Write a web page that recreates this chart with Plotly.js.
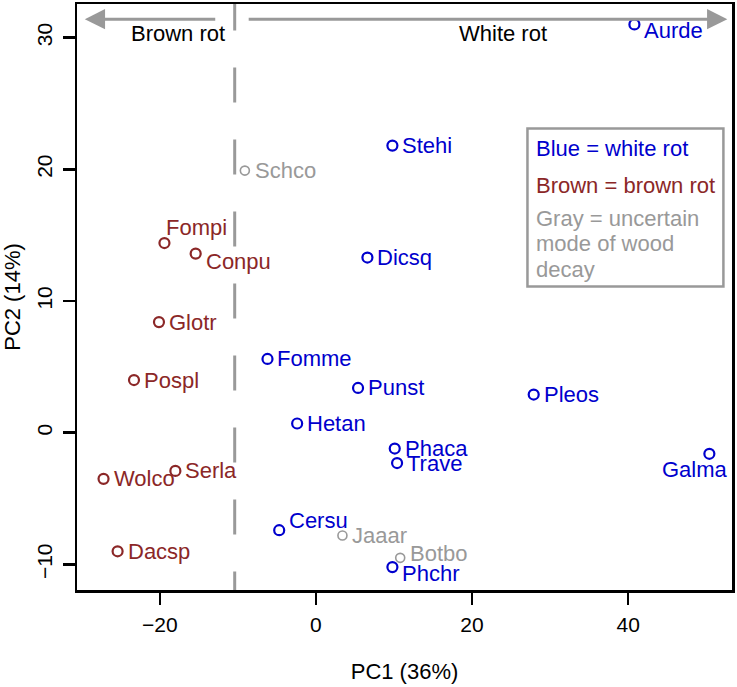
<!DOCTYPE html>
<html>
<head>
<meta charset="utf-8">
<script src="https://cdn.plot.ly/plotly-3.0.1.min.js"></script>
<style>html,body{margin:0;padding:0;background:#fff;}#chart{width:737px;height:687px;}</style>
</head>
<body>
<div id="chart"></div>
<script>
// ---- data ----
var species = ["Aurde","Stehi","Dicsq","Schco","Fompi","Conpu","Glotr","Pospl","Fomme","Punst","Pleos","Hetan","Phaca","Trave","Galma","Wolco","Serla","Cersu","Jaaar","Botbo","Dacsp","Phchr"];
var pc1 = [40.8, 9.8, 6.6, -9.1, -19.4, -15.4, -20.1, -23.3, -6.2, 5.4, 27.9, -2.4, 10.1, 10.4, 50.4, -27.2, -18.0, -4.7, 3.4, 10.8, -25.4, 9.8];
var pc2 = [31.0, 21.8, 13.3, 19.9, 14.4, 13.6, 8.4, 4.0, 5.6, 3.4, 2.9, 0.7, -1.2, -2.3, -1.6, -3.5, -2.9, -7.4, -7.8, -9.5, -9.0, -10.2];
var decay = ["white","white","white","gray","brown","brown","brown","brown","white","white","white","white","white","white","white","brown","brown","white","gray","gray","brown","white"];
var groups = ["white","brown","gray"];
var legendLines = ["Blue = white rot","Brown = brown rot","Gray = uncertain","mode of wood","decay"];
var legendGroup = ["white","brown","gray","gray","gray"];
var xTicks = [-20, 0, 20, 40];
var yTicks = [-10, 0, 10, 20, 30];
var divideAt = -10.4;

// ---- label placement (pixel offsets from point) ----
var labelDx = {Fompi: -8, Galma: -14};
var labelDy = {Aurde: 6, Fompi: -16, Conpu: 8, Cersu: -10, Galma: 16, Botbo: -4, Phchr: 6};
var labelAnchor = {Galma: "center"};

// ---- styles ----
var colors = {white: "#0000CD", brown: "#8B2727", gray: "#999999"};
var FONT = "Liberation Sans, Arial, Helvetica, sans-serif";
var FS = 22;
var TFS = 21;

var traces = groups.map(function (g) {
  var xs = [], ys = [], ns = [];
  for (var i = 0; i < species.length; i++) {
    if (decay[i] === g) { xs.push(pc1[i]); ys.push(pc2[i]); ns.push(species[i]); }
  }
  return {
    type: "scatter", mode: "markers", x: xs, y: ys, text: ns, name: g,
    hoverinfo: "text",
    marker: {symbol: "circle-open", size: g === "gray" ? 9 : 10, color: colors[g],
             line: {width: g === "gray" ? 1.6 : 2.2, color: colors[g]}},
    cliponaxis: false
  };
});

var annotations = species.map(function (s, i) {
  var anchor = labelAnchor[s] || "left";
  return {
    x: pc1[i], y: pc2[i], xref: "x", yref: "y", text: s, showarrow: false,
    xanchor: anchor, yanchor: "middle",
    xshift: (anchor === "left" ? 8 : 0) + (labelDx[s] || 0),
    yshift: -(labelDy[s] || 0),
    font: {family: FONT, size: FS, color: colors[decay[i]]}
  };
});

// arrows and side labels
var xr = [-30.6, 53.3], yr = [-11.94, 32.55];
var arrowY = 31.4;
annotations.push({x: xr[0] + 1.0, y: arrowY, ax: divideAt - 2.3, ay: arrowY, xref: "x", yref: "y", axref: "x", ayref: "y",
  text: "", showarrow: true, arrowhead: 2, arrowsize: 1.35, arrowwidth: 3, arrowcolor: "#999999", standoff: 0});
annotations.push({x: xr[1] - 0.6, y: arrowY, ax: divideAt + 1.6, ay: arrowY, xref: "x", yref: "y", axref: "x", ayref: "y",
  text: "", showarrow: true, arrowhead: 2, arrowsize: 1.35, arrowwidth: 3, arrowcolor: "#999999", standoff: 0});
annotations.push({x: -17.7, y: 30.3, xref: "x", yref: "y", text: "Brown rot", showarrow: false,
  xanchor: "center", yanchor: "middle", font: {family: FONT, size: FS, color: "#000"}});
annotations.push({x: 24.0, y: 30.3, xref: "x", yref: "y", text: "White rot", showarrow: false,
  xanchor: "center", yanchor: "middle", font: {family: FONT, size: FS, color: "#000"}});

// legend box text
var legY = [21.6, 18.8, 16.3, 14.4, 12.4];
legendLines.forEach(function (t, k) {
  annotations.push({x: 27.9, y: legY[k], xref: "x", yref: "y", text: t, showarrow: false,
    xanchor: "left", yanchor: "middle", font: {family: FONT, size: FS, color: colors[legendGroup[k]]}});
});

var shapes = [
  {type: "line", xref: "x", yref: "y", x0: divideAt, x1: divideAt, y0: 33.2, y1: -13,
   line: {color: "#999999", width: 3, dash: "35px,37px"}},
  {type: "rect", xref: "x", yref: "y", x0: 27.1, x1: 52.2, y0: 11.1, y1: 23.1,
   line: {color: "#999999", width: 2.5}, fillcolor: "rgba(0,0,0,0)"}
];

var axisCommon = {
  showgrid: false, zeroline: false, showline: true, mirror: true,
  linecolor: "#000", linewidth: 2.5, ticks: "outside", ticklen: 12, tickwidth: 2.5, tickcolor: "#000",
  tickfont: {family: FONT, size: TFS, color: "#000"}, automargin: false
};

function minus(v) { return String(v).replace("-", "\u2212"); }

var layout = {
  width: 737, height: 687,
  margin: {l: 77, r: 5, t: 4, b: 97},
  paper_bgcolor: "#fff", plot_bgcolor: "#fff",
  showlegend: false,
  font: {family: FONT, size: FS, color: "#000"},
  xaxis: Object.assign({}, axisCommon, {range: xr, tickvals: xTicks, ticktext: xTicks.map(minus),
    ticklabelstandoff: 2,
    title: {text: "PC1 (36%)", font: {family: FONT, size: FS, color: "#000"}, standoff: 29}}),
  yaxis: Object.assign({}, axisCommon, {range: yr, tickvals: yTicks, ticktext: yTicks.map(minus),
    tickangle: -90, ticklabelstandoff: 2,
    title: {text: "PC2 (14%)", font: {family: FONT, size: FS, color: "#000"}, standoff: 15}}),
  shapes: shapes,
  annotations: annotations
};

Plotly.newPlot("chart", traces, layout, {displayModeBar: false, staticPlot: true});
</script>
</body>
</html>
